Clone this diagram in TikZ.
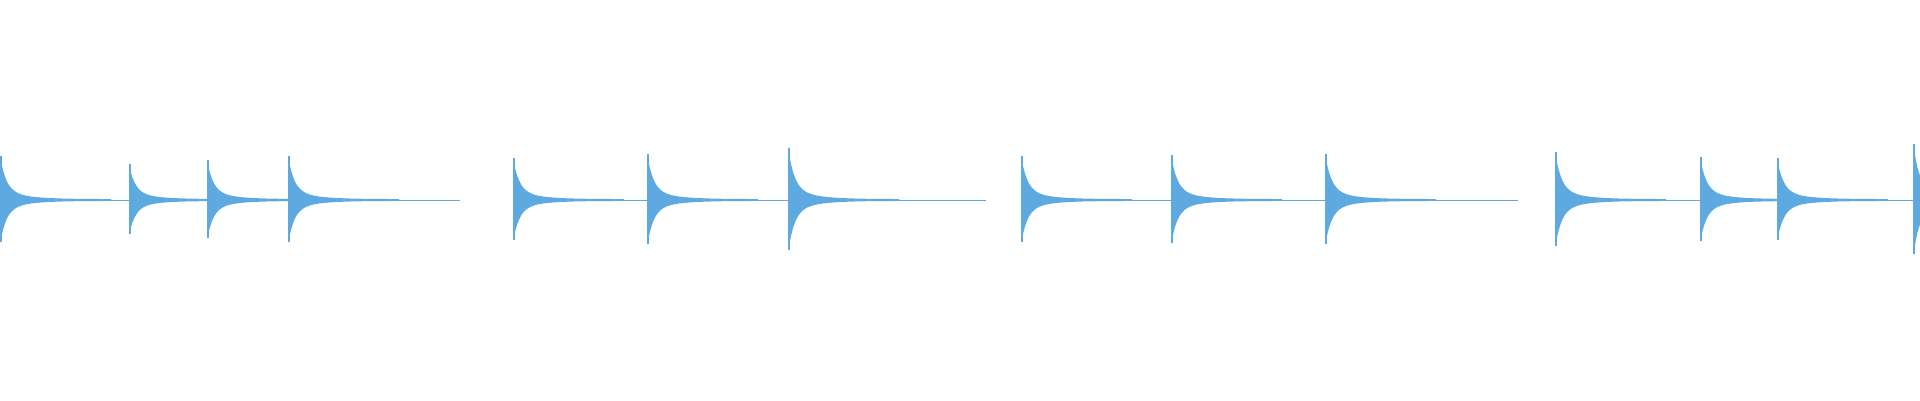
\documentclass[tikz,border=0pt]{standalone}
\definecolor{wave}{HTML}{5DA9E0}
\newcommand{\burst}[2]{%
  \fill[wave] plot[domain=0:110,samples=90] ({#1+\x},{#2*(0.75*exp(-\x/6)+0.25*exp(-\x/22))+0.9})
    -- plot[domain=110:0,samples=90] ({#1+\x},{-#2*(0.75*exp(-\x/6)+0.25*exp(-\x/22))-0.9}) -- cycle;
  \draw[wave,line width=1.2pt] (#1,{-#2-4}) -- (#1,{#2+6});}
\begin{document}
\begin{tikzpicture}[x=1pt,y=1pt]
\useasboundingbox (0,-200) rectangle (1920,200);
\foreach \a/\b in {0/460,514/986,1022/1518,1556/1920}{\draw[wave,line width=1pt] (\a,0)--(\b,0);}
\foreach \p/\A in {1/38,130/30,208/34,289/38,514/36,648/40,789/46,1022/38,1172/39,1326/40,1556/42,1701/37,1778/36,1914/50}{\burst{\p}{\A}}
\end{tikzpicture}
\end{document}
